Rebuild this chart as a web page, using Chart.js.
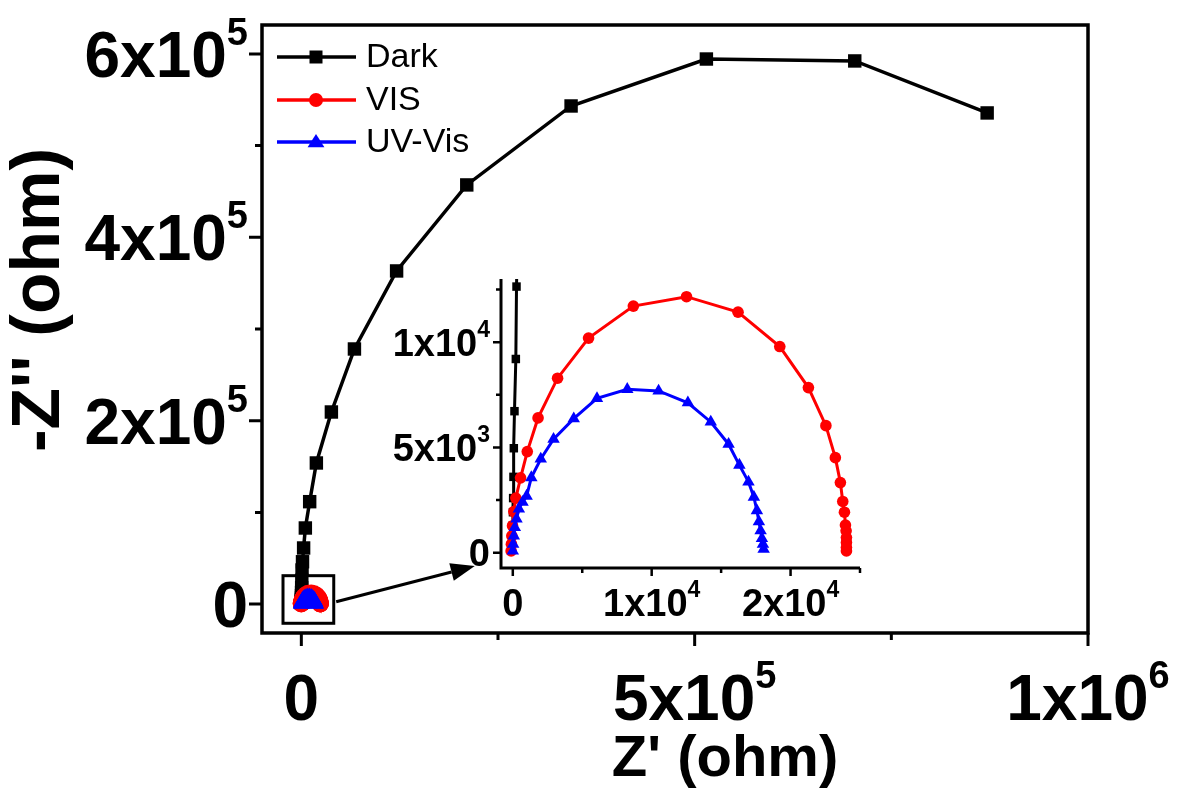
<!DOCTYPE html>
<html>
<head>
<meta charset="utf-8">
<script src="https://cdn.jsdelivr.net/npm/chart.js@4.4.0/dist/chart.umd.min.js"></script>
<style>
  html, body { margin: 0; padding: 0; background: #fff; }
  #wrap { position: relative; width: 1178px; height: 796px; }
  #main { position: absolute; left: 0; top: 0; }
  #inset { position: absolute; left: 370px; top: 270px; }
</style>
</head>
<body>
<div id="wrap">
  <canvas id="main" width="1178" height="796"></canvas>
  <canvas id="inset" width="510" height="370"></canvas>
</div>
<script>
// series (Z' , -Z'') in ohm
const seriesNames = ['Dark', 'VIS', 'UV-Vis'];
const seriesColors = ['#000000', '#ff0000', '#0000ff'];
const seriesMarkers = ['rect', 'circle', 'triangle'];

const darkZre = [0, 10, 24, 48, 73, 121, 218, 267, 420, 600, 900, 1500, 2900, 5100, 10600, 19100, 38200, 67500, 121100, 210300, 342900, 514900, 703500, 871800];
const darkZim = [1280, 1920, 2592, 3600, 4960, 6720, 9200, 12640, 18000, 26000, 37200, 46200, 61200, 83000, 111700, 153900, 209500, 278200, 363300, 457100, 543200, 594400, 592300, 535600];

const visZre = [-120, -100, -70, -20, 73, 218, 558, 1042, 1818, 3224, 5455, 8679, 12509, 16218, 19224, 21285, 22545, 23224, 23588, 23758, 23879, 23952, 24000, 24024, 24024, 24024, 24024];
const visZim = [80, 400, 800, 1280, 1952, 2592, 3552, 4800, 6400, 8288, 10192, 11712, 12160, 11424, 9792, 7840, 6032, 4512, 3328, 2432, 1920, 1312, 1040, 720, 480, 240, 80];

const uvZre = [0, 24, 73, 145, 267, 436, 700, 994, 1333, 2012, 2933, 4388, 6061, 8242, 10497, 12606, 14255, 15539, 16315, 16970, 17358, 17576, 17721, 17842, 17939, 18012, 18061];
const uvZim = [80, 400, 800, 1200, 1600, 2080, 2400, 2688, 3568, 4448, 5392, 6368, 7328, 7760, 7680, 7120, 6208, 5152, 4160, 3360, 2640, 2000, 1472, 1040, 672, 400, 160];

// tick labels
const mainXTicks = [0, 500000, 1000000];
const mainXLabels = ['0', '5x10^5', '1x10^6'];
const mainXMinor = [250000, 750000];
const mainYTicks = [0, 200000, 400000, 600000];
const mainYLabels = ['0', '2x10^5', '4x10^5', '6x10^5'];
const mainYMinor = [100000, 300000, 500000];

const insetXTicks = [0, 10000, 20000];
const insetXLabels = ['0', '1x10^4', '2x10^4'];
const insetXMinor = [5000, 15000, 25000];
const insetYTicks = [0, 5000, 10000];
const insetYLabels = ['0', '5x10^3', '1x10^4'];
const insetYMinor = [2500, 7500, 12500];

const FONT = '"Liberation Sans", Arial, sans-serif';

function pts(xs, ys) {
  return xs.map((x, i) => ({ x: x, y: ys[i] }));
}

const allData = [pts(darkZre, darkZim), pts(visZre, visZim), pts(uvZre, uvZim)];

function makeDatasets(lineW, radii, clip) {
  return allData.map((d, i) => ({
    label: seriesNames[i],
    data: d,
    showLine: true,
    borderColor: seriesColors[i],
    backgroundColor: seriesColors[i],
    borderWidth: lineW,
    pointStyle: seriesMarkers[i],
    pointRadius: radii[i],
    pointBorderWidth: 0,
    pointBackgroundColor: seriesColors[i],
    order: 2 - i,
    clip: clip
  }));
}

function drawSci(ctx, text, x, y, size, align) {
  const parts = text.split('^');
  const base = parts[0], exp = parts[1];
  const supSize = Math.round(size * 0.6);
  ctx.font = 'bold ' + size + 'px ' + FONT;
  const wb = ctx.measureText(base).width;
  let we = 0;
  if (exp) {
    ctx.font = 'bold ' + supSize + 'px ' + FONT;
    we = ctx.measureText(exp).width;
  }
  const total = wb + we;
  const left = align === 'right' ? x - total : x - total / 2;
  ctx.textAlign = 'left';
  ctx.textBaseline = 'alphabetic';
  ctx.fillStyle = '#000';
  ctx.font = 'bold ' + size + 'px ' + FONT;
  ctx.fillText(base, left, y + 0.358 * size);
  if (exp) {
    ctx.font = 'bold ' + supSize + 'px ' + FONT;
    ctx.fillText(exp, left + wb, y - 0.14 * size);
  }
}

function drawMarker(ctx, style, x, y, r) {
  ctx.beginPath();
  if (style === 'rect') {
    ctx.rect(x - r, y - r, 2 * r, 2 * r);
  } else if (style === 'circle') {
    ctx.arc(x, y, r, 0, Math.PI * 2);
  } else {
    ctx.moveTo(x, y - r * 1.15);
    ctx.lineTo(x + r * 1.2, y + r * 0.75);
    ctx.lineTo(x - r * 1.2, y + r * 0.75);
    ctx.closePath();
  }
  ctx.fill();
}

const mainDecor = {
  id: 'mainDecor',
  afterDraw(chart) {
    const ctx = chart.ctx;
    const a = chart.chartArea;
    const xs = chart.scales.x, ys = chart.scales.y;
    ctx.save();
    ctx.strokeStyle = '#000';
    ctx.lineWidth = 3.5;
    ctx.strokeRect(a.left, a.top, a.right - a.left, a.bottom - a.top);

    // ticks
    ctx.lineWidth = 3;
    ctx.beginPath();
    mainXTicks.forEach(v => { const p = xs.getPixelForValue(v); ctx.moveTo(p, a.bottom); ctx.lineTo(p, a.bottom + 13); });
    mainXMinor.forEach(v => { const p = xs.getPixelForValue(v); ctx.moveTo(p, a.bottom); ctx.lineTo(p, a.bottom + 7); });
    mainYTicks.forEach(v => { const p = ys.getPixelForValue(v); ctx.moveTo(a.left, p); ctx.lineTo(a.left - 13, p); });
    mainYMinor.forEach(v => { const p = ys.getPixelForValue(v); ctx.moveTo(a.left, p); ctx.lineTo(a.left - 7, p); });
    ctx.stroke();

    mainXTicks.forEach((v, i) => drawSci(ctx, mainXLabels[i], xs.getPixelForValue(v), a.bottom + 64, 64, 'center'));
    mainYTicks.forEach((v, i) => drawSci(ctx, mainYLabels[i], a.left - 14, ys.getPixelForValue(v), 64, 'right'));

    // axis titles
    ctx.fillStyle = '#000';
    ctx.textAlign = 'center';
    ctx.textBaseline = 'middle';
    ctx.font = 'bold 58px ' + FONT;
    ctx.fillText("Z' (ohm)", 725, 760);
    ctx.save();
    ctx.translate(40, 300);
    ctx.rotate(-Math.PI / 2);
    ctx.font = 'bold 68px ' + FONT;
    ctx.fillText("-Z'' (ohm)", 0, 0);
    ctx.restore();

    // zoom box and arrow
    const bx0 = xs.getPixelForValue(-23300), bx1 = xs.getPixelForValue(41200);
    const by0 = ys.getPixelForValue(31000), by1 = ys.getPixelForValue(-20900);
    ctx.lineWidth = 3;
    ctx.strokeRect(bx0, by0, bx1 - bx0, by1 - by0);
    const ax0 = xs.getPixelForValue(44300), ay0 = ys.getPixelForValue(2600);
    const ax1 = xs.getPixelForValue(220500), ay1 = ys.getPixelForValue(41500);
    const ang = Math.atan2(ay1 - ay0, ax1 - ax0);
    const hl = 24, hw = 9;
    const bxh = ax1 - hl * Math.cos(ang), byh = ay1 - hl * Math.sin(ang);
    ctx.beginPath();
    ctx.moveTo(ax0, ay0);
    ctx.lineTo(bxh, byh);
    ctx.stroke();
    ctx.beginPath();
    ctx.moveTo(ax1, ay1);
    ctx.lineTo(bxh + hw * Math.sin(ang), byh - hw * Math.cos(ang));
    ctx.lineTo(bxh - hw * Math.sin(ang), byh + hw * Math.cos(ang));
    ctx.closePath();
    ctx.fill();

    // legend
    const rows = [57, 100, 142];
    const mr = [6.5, 7, 7];
    seriesNames.forEach((name, i) => {
      ctx.strokeStyle = seriesColors[i];
      ctx.fillStyle = seriesColors[i];
      ctx.lineWidth = 3.5;
      ctx.beginPath();
      ctx.moveTo(277, rows[i]);
      ctx.lineTo(356, rows[i]);
      ctx.stroke();
      drawMarker(ctx, seriesMarkers[i], 316, rows[i], mr[i]);
      ctx.fillStyle = '#000';
      ctx.font = '34px ' + FONT;
      ctx.textAlign = 'left';
      ctx.textBaseline = 'middle';
      ctx.fillText(name, 366, rows[i] + 1);
    });
    ctx.restore();
  }
};

const insetDecor = {
  id: 'insetDecor',
  afterDraw(chart) {
    const ctx = chart.ctx;
    const a = chart.chartArea;
    const xs = chart.scales.x, ys = chart.scales.y;
    ctx.save();
    ctx.strokeStyle = '#000';
    ctx.lineWidth = 3;
    ctx.beginPath();
    ctx.moveTo(a.left, a.top);
    ctx.lineTo(a.left, a.bottom);
    ctx.lineTo(a.right, a.bottom);
    ctx.stroke();
    ctx.lineWidth = 2.5;
    ctx.beginPath();
    insetXTicks.forEach(v => { const p = xs.getPixelForValue(v); ctx.moveTo(p, a.bottom); ctx.lineTo(p, a.bottom + 8); });
    insetXMinor.forEach(v => { const p = xs.getPixelForValue(v); ctx.moveTo(p, a.bottom); ctx.lineTo(p, a.bottom + 5); });
    insetYTicks.forEach(v => { const p = ys.getPixelForValue(v); ctx.moveTo(a.left, p); ctx.lineTo(a.left - 8, p); });
    insetYMinor.forEach(v => { const p = ys.getPixelForValue(v); ctx.moveTo(a.left, p); ctx.lineTo(a.left - 5, p); });
    ctx.stroke();
    insetXTicks.forEach((v, i) => drawSci(ctx, insetXLabels[i], xs.getPixelForValue(v), a.bottom + 34, 38, 'center'));
    insetYTicks.forEach((v, i) => drawSci(ctx, insetYLabels[i], a.left - 11, ys.getPixelForValue(v), 38, 'right'));
    ctx.restore();
  }
};

function axis(min, max, fitProp, fitVal, pos) {
  return {
    type: 'linear',
    position: pos,
    min: min,
    max: max,
    grid: { display: false },
    border: { display: false },
    ticks: { display: false },
    afterFit: s => { s[fitProp] = fitVal; }
  };
}

new Chart(document.getElementById('main'), {
  type: 'scatter',
  data: { datasets: makeDatasets(3.5, [9.5, 8.5, 9.5], undefined) },
  options: {
    responsive: false,
    animation: false,
    events: [],
    layout: { padding: { top: 25, right: 90, left: 0, bottom: 0 } },
    plugins: { legend: { display: false }, tooltip: { enabled: false } },
    scales: {
      x: axis(-50000, 1000000, 'height', 163, 'bottom'),
      y: axis(-31500, 631500, 'width', 262, 'left')
    }
  },
  plugins: [mainDecor]
});

new Chart(document.getElementById('inset'), {
  type: 'scatter',
  data: { datasets: makeDatasets(3, [6, 5.8, 7.2], { left: 8, top: 0, right: 0, bottom: 8 }) },
  options: {
    responsive: false,
    animation: false,
    events: [],
    layout: { padding: { top: 9, right: 20, left: 0, bottom: 0 } },
    plugins: { legend: { display: false }, tooltip: { enabled: false } },
    scales: {
      x: axis(-850, 25000, 'height', 72, 'bottom'),
      y: axis(-730, 13000, 'width', 131, 'left')
    }
  },
  plugins: [insetDecor]
});
</script>
</body>
</html>
